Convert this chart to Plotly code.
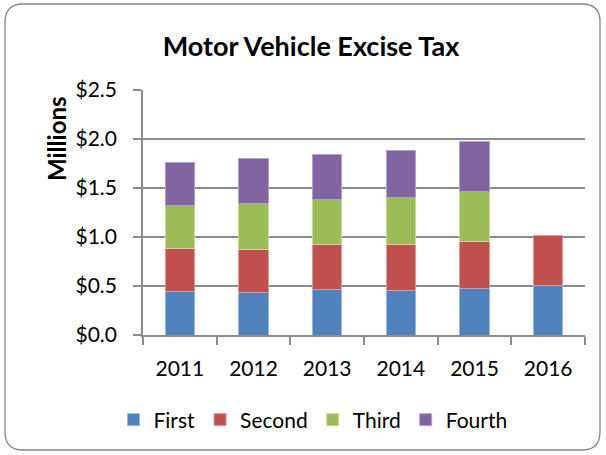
import plotly.graph_objects as go

years = ["2011", "2012", "2013", "2014", "2015", "2016"]
first = [0.44, 0.43, 0.46, 0.456, 0.476, 0.507]
second = [0.44, 0.44, 0.46, 0.465, 0.476, 0.51]
third = [0.44, 0.47, 0.464, 0.484, 0.514, None]
fourth = [0.44, 0.463, 0.455, 0.476, 0.507, None]
series_names = ["First", "Second", "Third", "Fourth"]
colors = ["#4F81BD", "#C0504D", "#9BBB59", "#8064A2"]
edge_colors = ["#9DB7DC", "#DC9A98", "#C6DA9E", "#B3A2C8"]
y_ticks = [0.0, 0.5, 1.0, 1.5, 2.0, 2.5]
y_tick_text = ["$0.0", "$0.5", "$1.0", "$1.5", "$2.0", "$2.5"]

W, H = 606, 455
L, R, T, B = 143, 21, 90, 120
FONT = "Lato"
AXC = "#8c8c8c"

fig = go.Figure()
for name, vals, c, ec in zip(series_names, [first, second, third, fourth], colors, edge_colors):
    fig.add_trace(go.Bar(x=years, y=vals, name=name, marker=dict(color=c, line=dict(color=ec, width=1))))

pw, ph = W - L - R, H - T - B
def px(x):
    return (x - L) / pw
def py(y):
    return (H - B - y) / ph

# rounded chart border
x0, x1, y0, y1, r = 5, 600, 4, 450, 18
path = (f"M {px(x0+r)},{py(y0)} L {px(x1-r)},{py(y0)} Q {px(x1)},{py(y0)} {px(x1)},{py(y0+r)} "
        f"L {px(x1)},{py(y1-r)} Q {px(x1)},{py(y1)} {px(x1-r)},{py(y1)} "
        f"L {px(x0+r)},{py(y1)} Q {px(x0)},{py(y1)} {px(x0)},{py(y1-r)} "
        f"L {px(x0)},{py(y0+r)} Q {px(x0)},{py(y0)} {px(x0+r)},{py(y0)} Z")
fig.add_shape(type="path", path=path, xref="paper", yref="paper",
              line=dict(color="#868686", width=1.3), layer="below")

fig.add_annotation(text="<b>Millions</b>", x=px(56), y=py(139), xref="paper", yref="paper",
                   textangle=-90, showarrow=False, font=dict(family=FONT, size=24, color="black"),
                   xanchor="center", yanchor="middle")

fig.update_layout(
    width=W, height=H,
    margin=dict(l=L, r=R, t=T, b=B),
    barmode="stack", bargap=0.6,
    plot_bgcolor="white", paper_bgcolor="white",
    font=dict(family=FONT, size=21, color="black"),
    title=dict(text="<b>Motor Vehicle Excise Tax</b>", x=311 / W, xanchor="center",
               y=1 - 47 / H, yanchor="middle", font=dict(family=FONT, size=27, color="black")),
    showlegend=True,
    legend=dict(orientation="h", x=px(313), xanchor="center", y=py(420), yanchor="middle",
                font=dict(family=FONT, size=21), itemwidth=30, traceorder="normal"),
    xaxis=dict(showline=True, linecolor=AXC, linewidth=1.6, ticks="outside", tickson="boundaries",
               ticklen=8, tickcolor=AXC, tickwidth=1.6, showgrid=False, ticklabelstandoff=14),
    yaxis=dict(range=[0, 2.5], tickvals=y_ticks, ticktext=y_tick_text,
               showline=True, linecolor=AXC, linewidth=1.6, ticks="outside", ticklen=8,
               tickcolor=AXC, tickwidth=1.6, showgrid=True, gridcolor=AXC, gridwidth=1.6,
               zeroline=False, ticklabelstandoff=12),
)

fig.write_html("out.html", config={"displayModeBar": False},
               post_script="document.body.style.margin='0px';")
